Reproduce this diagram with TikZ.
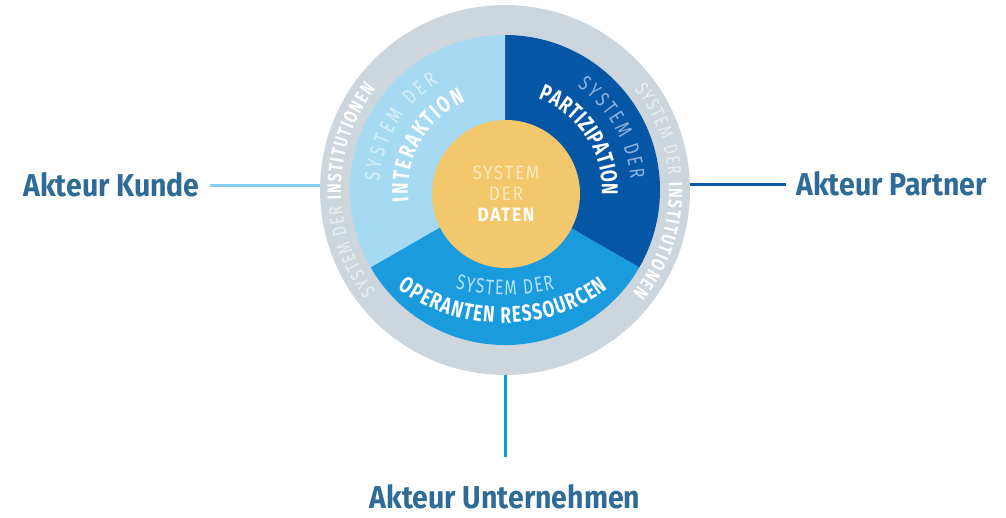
\documentclass[tikz,border=0pt]{standalone}
\usepackage{fontspec}
\setmainfont{Fira Sans}[FakeStretch=0.9]
\newfontfamily\arcFont{Fira Sans}[FakeStretch=0.75]
\usepackage{xcolor}
\usepackage{tikz}
\usetikzlibrary{decorations.text}

\definecolor{ringGrey}{HTML}{CDD6DD}
\definecolor{ringText}{HTML}{E9EEF1}
\definecolor{kundeBlue}{HTML}{A6D9F2}
\definecolor{kundeText}{HTML}{D8EFFA}
\definecolor{partnerBlue}{HTML}{0656A6}
\definecolor{partnerText}{HTML}{8DB3E0}
\definecolor{firmaBlue}{HTML}{1A9BDE}
\definecolor{firmaText}{HTML}{B3E1F8}
\definecolor{datenYellow}{HTML}{F3C76C}
\definecolor{datenText}{HTML}{FBE8BE}
\definecolor{akteurText}{HTML}{2E6B96}
\definecolor{kundeLine}{HTML}{86CDEE}
\definecolor{partnerLine}{HTML}{0A5AA8}
\definecolor{firmaLine}{HTML}{0E9BDC}

\newcommand{\ringTxt}{\arcFont\fontsize{11}{13}\selectfont}
\newcommand{\thinTxt}{\arcFont\fontsize{12}{14}\selectfont}
\newcommand{\boldTxt}{\arcFont\fontsize{13}{15}\selectfont\bfseries}

\tikzstyle{tsAkteur} = [
    text=akteurText,
    font=\fontsize{18}{20}\selectfont\bfseries,
    inner sep=0.2cm
]
\tikzstyle{tsLine} = [
    line width=0.06cm
]
\tikzstyle{tsArcText} = [
    decorate,
    decoration={text along path, text align=fit to path}
]

\begin{document}
\begin{tikzpicture}[x=0.02cm, y=0.02cm]

        \useasboundingbox (0,0) rectangle (1006,-517);
        \fill[white] (0,0) rectangle (1006,-517);

        \node[  circle,
                fill=ringGrey,
                minimum size=7.4cm,
                inner sep=0pt] (wheel) at (505,-190) { };

        \fill[partnerBlue] (wheel.center) -- ++(90:155) arc[start angle=90, end angle=-30, radius=155] -- cycle;
        \fill[kundeBlue] (wheel.center) -- ++(90:155) arc[start angle=90, end angle=210, radius=155] -- cycle;
        \fill[firmaBlue] (wheel.center) -- ++(210:155) arc[start angle=210, end angle=330, radius=155] -- cycle;

        \node[  circle,
                fill=datenYellow,
                minimum size=2.96cm,
                inner sep=0pt,
                align=center,
                font=\fontsize{11}{12}\selectfont\addfontfeature{LetterSpace=8}] (daten) at (506,-194)
                {\color{datenText}SYSTEM\\ \color{datenText}DER\\ \color{white}\bfseries DATEN};

        % ring
        \path[tsArcText, decoration={text={|\ringTxt\color{ringText}|SYSTEM DER |\ringTxt\bfseries\color{white}|INSTITUTIONEN}}]
                ([shift={(218:164)}]wheel.center) arc[start angle=218, end angle=142, radius=164];
        \path[tsArcText, decoration={text={|\ringTxt\color{ringText}|SYSTEM DER |\ringTxt\bfseries\color{white}|INSTITUTIONEN}}]
                ([shift={(38:164)}]wheel.center) arc[start angle=38, end angle=-39, radius=164];

        % sectors
        \path[tsArcText, decoration={text={|\thinTxt\color{kundeText}|SYSTEM DER}}]
                ([shift={(176:126)}]wheel.center) arc[start angle=176, end angle=122, radius=126];
        \path[tsArcText, decoration={text={|\boldTxt\color{white}|INTERAKTION}}]
                ([shift={(187:97)}]wheel.center) arc[start angle=187, end angle=114, radius=97];

        \path[tsArcText, decoration={text={|\thinTxt\color{partnerText}|SYSTEM DER}}]
                ([shift={(55:126)}]wheel.center) arc[start angle=55, end angle=5, radius=126];
        \path[tsArcText, decoration={text={|\boldTxt\color{white}|PARTIZIPATION}}]
                ([shift={(70:97)}]wheel.center) arc[start angle=70, end angle=-3, radius=97];

        \path[tsArcText, decoration={text={|\thinTxt\color{firmaText}|SYSTEM DER}}]
                ([shift={(256:205)}]505,-90) arc[start angle=256, end angle=284, radius=205];
        \path[tsArcText, decoration={text={|\boldTxt\color{white}|OPERANTEN RESSOURCEN}}]
                ([shift={(234:179)}]503,-144) arc[start angle=234, end angle=306, radius=179];

        % actors
        \node[tsAkteur, anchor=east] (kunde) at (210,-185) {Akteur Kunde};
        \node[tsAkteur, anchor=west] (partner) at (786,-184) {Akteur Partner};
        \node[tsAkteur, inner sep=2pt] (firma) at (505,-497) {Akteur Unternehmen};

        \draw[tsLine, kundeLine] (kunde.east) -- (kunde.east -| wheel.west);
        \draw[tsLine, partnerLine] (partner.west) -- (partner.west -| wheel.east);
        \draw[tsLine, firmaLine, shorten >=0.48cm] (wheel.south) -- (firma.north);

\end{tikzpicture}
\end{document}
